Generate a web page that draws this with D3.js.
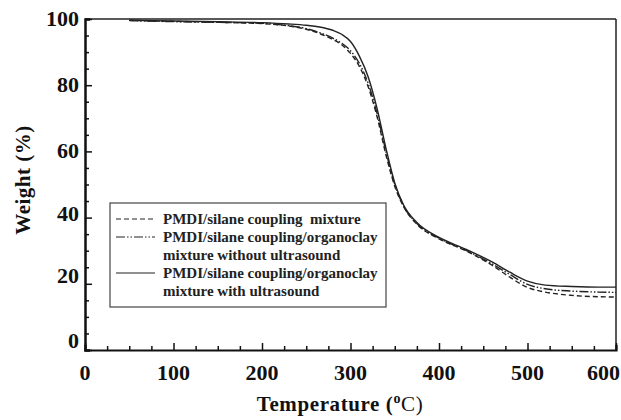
<!DOCTYPE html>
<html><head><meta charset="utf-8">
<script src="https://cdn.jsdelivr.net/npm/d3@7"></script>
<style>
body{margin:0;background:#fff;}
svg{display:block;}
text{font-family:"Liberation Serif","Times New Roman",serif;}
</style></head>
<body><svg id="c" width="621" height="420"></svg>
<script>
const temps = [50,100,150,200,230,250,265,280,290,300,310,320,330,340,350,360,375,400,430,460,480,500,520,550,580,600];
const mixtureOnly = [99.6,99.3,99.0,98.6,97.9,96.9,95.6,93.8,92.2,89.6,85.7,79.5,70.5,59,49.5,43.3,38,33.6,30,25.6,22,18.9,17.5,16.5,16.1,16.0];
const withoutUltrasound = [99.5,99.2,99.0,98.7,98.0,97.1,95.9,94.2,92.7,90.4,86.6,80.5,71.5,60,50,43.5,38.2,33.8,30.2,26,22.8,19.8,18.5,17.8,17.5,17.4];
const withUltrasound = [99.6,99.4,99.2,98.9,98.5,98.1,97.6,96.6,95.4,93.2,88.8,82.5,73,61,50.5,43.8,38.5,34,30.5,26.6,23.5,20.8,19.6,19.2,19.0,19.0];
const seriesNames = ["PMDI/silane coupling  mixture","PMDI/silane coupling/organoclay|mixture without ultrasound","PMDI/silane coupling/organoclay|mixture with ultrasound"];
const xTicks = [0,100,200,300,400,500,600];
const yTicks = [0,20,40,60,80,100];

const svg = d3.select("#c");
const L=85, R=616, T=19, B=350;
const x = d3.scaleLinear().domain([0,600]).range([L,R]);
const y = d3.scaleLinear().domain([0,100]).range([B,T]);

// frame
svg.append("line").attr("x1",L).attr("x2",R).attr("y1",T).attr("y2",T).attr("stroke","#222").attr("stroke-width",1.5);
svg.append("line").attr("x1",R).attr("x2",R).attr("y1",T).attr("y2",B).attr("stroke","#222").attr("stroke-width",1.5);

// axes
const xAxis = d3.axisBottom(x).tickValues(d3.range(0,601,25)).tickSize(-5).tickFormat(()=> "");
const gx = svg.append("g").attr("transform",`translate(0,${B})`).call(xAxis);
gx.select(".domain").attr("stroke","#111").attr("stroke-width",2.2);
gx.selectAll(".tick line").attr("stroke","#111").attr("stroke-width",1.5)
  .attr("y2", d=> d%100===0 ? -7 : -4);
svg.append("g").selectAll("text").data(xTicks).join("text")
  .attr("x",d=> d===600 ? 620 : x(d)).attr("y",380)
  .attr("text-anchor",d=> d===600 ? "end" : "middle")
  .attr("font-size",22).attr("font-weight","bold").attr("fill","#111").text(d=>d);

const yAxis = d3.axisLeft(y).tickValues(d3.range(0,101,5)).tickSize(-5).tickFormat(()=> "");
const gy = svg.append("g").attr("transform",`translate(${L},0)`).call(yAxis);
gy.select(".domain").attr("stroke","#111").attr("stroke-width",2.5);
gy.selectAll(".tick line").attr("stroke","#111").attr("stroke-width",1.5)
  .attr("x2", d=> d%20===0 ? 7 : 4);
const yLabelDy = d => d>=60 ? 7 : d===40 ? 3 : d===20 ? -1 : -2;
svg.append("g").selectAll("text").data(yTicks).join("text")
  .attr("x",79).attr("y",d=> y(d)+yLabelDy(d)).attr("text-anchor","end")
  .attr("font-size",22).attr("font-weight","bold").attr("fill","#111").text(d=>d);

// axis titles
svg.append("text").attr("transform","translate(30,180) rotate(-90)").attr("text-anchor","middle")
  .attr("font-size",21).attr("font-weight","bold").attr("letter-spacing",0.5).attr("fill","#111").text("Weight (%)");
const xt = svg.append("text").attr("x",340).attr("y",411).attr("text-anchor","middle")
  .attr("font-size",21).attr("letter-spacing",0.6).attr("fill","#111");
xt.append("tspan").attr("font-weight","bold").text("Temperature (");
xt.append("tspan").attr("font-weight","bold").attr("font-size",14).attr("dy",-8).text("o");
xt.append("tspan").attr("dy",8).text("C)");

// curves
const line = d3.line().x((d,i)=>x(temps[i])).y(d=>y(d)).curve(d3.curveMonotoneX);
const styles = [
  {data:mixtureOnly, dash:"5,3"},
  {data:withoutUltrasound, dash:"9,2,1.5,2,1.5,2"},
  {data:withUltrasound, dash:null}
];
styles.forEach(s=>{
  svg.append("path").attr("d",line(s.data)).attr("fill","none").attr("stroke","#222")
    .attr("stroke-width",1.4).attr("stroke-dasharray",s.dash);
});

// legend
const lg = svg.append("g");
lg.append("rect").attr("x",110).attr("y",203).attr("width",276).attr("height",104)
  .attr("fill","#fff").attr("stroke","#444").attr("stroke-width",1.2);
const rowY = [219,237,273];
seriesNames.forEach((n,i)=>{
  lg.append("line").attr("x1",116).attr("x2",155).attr("y1",rowY[i]).attr("y2",rowY[i])
    .attr("stroke","#222").attr("stroke-width",1.2).attr("stroke-dasharray",styles[i].dash);
  n.split("|").forEach((part,j)=>{
    lg.append("text").attr("x",163).attr("y",rowY[i]+5+j*18).attr("font-size",15)
      .attr("font-weight","bold").attr("fill","#222").style("white-space","pre").text(part);
  });
});
</script></body></html>
